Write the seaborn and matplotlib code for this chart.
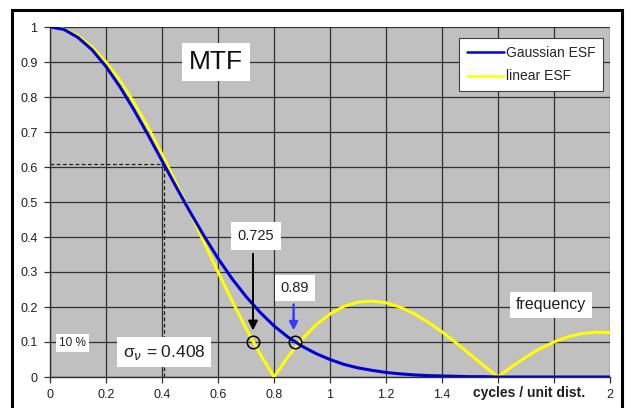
import matplotlib
matplotlib.use("Agg")
import matplotlib.pyplot as plt
from matplotlib.patches import Rectangle
import seaborn as sns
import pandas as pd

# ---- data ----
freq = [0.00, 0.05, 0.10, 0.15, 0.20, 0.25, 0.30, 0.35, 0.40, 0.45,
        0.50, 0.55, 0.60, 0.65, 0.70, 0.75, 0.80, 0.85, 0.90, 0.95,
        1.00, 1.05, 1.10, 1.15, 1.20, 1.25, 1.30, 1.35, 1.40, 1.45,
        1.50, 1.55, 1.60, 1.65, 1.70, 1.75, 1.80, 1.85, 1.90, 1.95, 2.00]
gaussian_esf = [1.000, 0.993, 0.970, 0.935, 0.887, 0.829, 0.763, 0.692, 0.618, 0.544,
                0.472, 0.403, 0.339, 0.281, 0.230, 0.185, 0.146, 0.114, 0.088, 0.067,
                0.050, 0.036, 0.026, 0.019, 0.013, 0.009, 0.006, 0.004, 0.003, 0.002,
                0.001, 0.001, 0.000, 0.000, 0.000, 0.000, 0.000, 0.000, 0.000, 0.000, 0.000]
linear_esf = [1.000, 0.994, 0.975, 0.943, 0.900, 0.847, 0.784, 0.714, 0.637, 0.555,
              0.471, 0.385, 0.300, 0.218, 0.139, 0.066, 0.000, 0.058, 0.108, 0.149,
              0.180, 0.202, 0.214, 0.217, 0.212, 0.200, 0.181, 0.157, 0.129, 0.098,
              0.065, 0.032, 0.000, 0.030, 0.057, 0.081, 0.100, 0.115, 0.124, 0.128, 0.127]
x_ticks = [0, 0.2, 0.4, 0.6, 0.8, 1.0, 1.2, 1.4, 1.6, 1.8, 2.0]
x_tick_labels = ["0", "0.2", "0.4", "0.6", "0.8", "1", "1.2", "1.4", "", "", "2"]
y_ticks = [0, 0.1, 0.2, 0.3, 0.4, 0.5, 0.6, 0.7, 0.8, 0.9, 1.0]
y_tick_labels = ["0", "0.1", "0.2", "0.3", "0.4", "0.5", "0.6", "0.7", "0.8", "0.9", "1"]
sigma_nu = 0.408
mtf_at_sigma = 0.61
cut_linear = 0.725
cut_gauss = 0.875
level_10 = 0.1

df_g = pd.DataFrame({"f": freq, "mtf": gaussian_esf})
df_l = pd.DataFrame({"f": freq, "mtf": linear_esf})

sns.set_style("white")
plt.rcParams["font.family"] = ["Liberation Sans", "DejaVu Sans"]

fig = plt.figure(figsize=(6.26, 4.08), dpi=100)
ax = fig.add_axes([50/626, 1-377/408, 560/626, 350/408])
ax.set_facecolor("#c0c0c0")

sns.lineplot(data=df_g, x="f", y="mtf", ax=ax, color="#0000d8", lw=2.2,
             label="Gaussian ESF", zorder=4)
sns.lineplot(data=df_l, x="f", y="mtf", ax=ax, color="#ffff00", lw=2.2,
             label="linear ESF", zorder=3)

ax.set_xlim(0, 2)
ax.set_ylim(0, 1)
ax.set_xticks(x_ticks)
ax.set_xticklabels(x_tick_labels)
ax.set_yticks(y_ticks)
ax.set_yticklabels(y_tick_labels)
ax.set_xlabel("")
ax.set_ylabel("")
ax.grid(True, color="#303030", lw=0.9, zorder=1)
ax.set_axisbelow(True)
for s in ["top", "right"]:
    ax.spines[s].set_visible(False)
for s in ["left", "bottom"]:
    ax.spines[s].set_color("#303030")
    ax.spines[s].set_linewidth(1.0)
ax.tick_params(axis="both", direction="out", length=4, width=0.9, color="#303030",
               labelsize=9, labelcolor="#202020", pad=5, left=True, bottom=True)

# dashed helper lines
ax.plot([0, sigma_nu], [mtf_at_sigma, mtf_at_sigma], ls=(0, (3, 2)), color="#202020", lw=0.9, zorder=2)
ax.plot([sigma_nu, sigma_nu], [0, mtf_at_sigma], ls=(0, (3, 2)), color="#202020", lw=0.9, zorder=2)

# circles
ax.plot([cut_linear, cut_gauss], [level_10, level_10], ls="none", marker="o", ms=9,
        mfc="none", mec="black", mew=1.1, zorder=6)

# arrows
ax.annotate("", xy=(cut_linear, 0.125), xytext=(cut_linear, 0.36),
            arrowprops=dict(arrowstyle="-|>", color="black", lw=1.4, mutation_scale=14),
            zorder=6)
ax.annotate("", xy=(cut_gauss - 0.005, 0.125), xytext=(cut_gauss - 0.005, 0.215),
            arrowprops=dict(arrowstyle="-|>", color="#3a3aff", lw=1.8, mutation_scale=12),
            zorder=6)

ax.text(0.593, 0.9, "MTF", fontsize=19, ha="center", va="center", color="#101010",
        bbox=dict(boxstyle="square,pad=0.28", fc="white", ec="none"), zorder=7)
ax.text(0.736, 0.403, "0.725", fontsize=10.5, ha="center", va="center", color="#202020",
        bbox=dict(boxstyle="square,pad=0.45", fc="white", ec="none"), zorder=7)
ax.text(0.875, 0.254, "0.89", fontsize=10.5, ha="center", va="center", color="#202020",
        bbox=dict(boxstyle="square,pad=0.4", fc="white", ec="none"), zorder=7)
ax.text(0.08, 0.097, "10 %", fontsize=8.5, ha="center", va="center", color="#202020",
        bbox=dict(boxstyle="square,pad=0.25", fc="white", ec="none"), zorder=7)
ax.text(0.407, 0.071, r"σ$_\nu$ = 0.408", fontsize=12.5, ha="center", va="center",
        color="#202020", bbox=dict(boxstyle="square,pad=0.3", fc="white", ec="none"), zorder=7)
ax.text(1.79, 0.206, "frequency", fontsize=11.5, ha="center", va="center", color="#202020",
        bbox=dict(boxstyle="square,pad=0.35", fc="white", ec="none"), zorder=7)
ax.text(1.71, -0.045, "cycles / unit dist.", fontsize=10, fontweight="bold", ha="center",
        va="center", color="#202020", clip_on=False)

leg = ax.legend(loc="upper right", bbox_to_anchor=(1.0 - 7/560, 1.0 - 11/350), fontsize=10,
                frameon=True, fancybox=False, edgecolor="#404040", facecolor="white",
                framealpha=1, handlelength=2.7, handletextpad=0.1, borderpad=0.55,
                labelspacing=0.7, borderaxespad=0)
leg.get_frame().set_linewidth(0.8)
for line in leg.get_lines():
    line.set_linewidth(1.8)
leg.set_zorder(8)

# outer chart frame
fig.patches.append(Rectangle((12/626, -0.05), 610/626, 1.05 - 10/408, transform=fig.transFigure,
                             fill=False, ec="black", lw=2.2, zorder=10))

fig.savefig("out.png", dpi=100)
